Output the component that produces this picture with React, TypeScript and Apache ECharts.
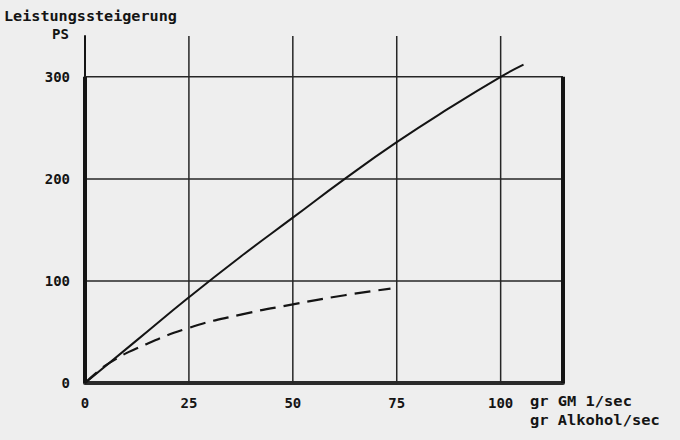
import React, { useEffect, useRef } from "react";
import * as echarts from "echarts";

// Data
const SOLID_CURVE: [number, number][] = [
  [0, 0], [12.5, 42], [25, 84], [37.5, 124], [50, 162], [62.5, 200],
  [75, 236], [87.5, 269], [100, 300], [105.5, 312],
];
const DASHED_CURVE: [number, number][] = [
  [0, 0], [3, 11], [6, 20], [12.5, 34], [25, 54], [37.5, 67],
  [50, 77], [62.5, 86], [73.5, 92.5],
];
const X_GRID = [25, 50, 75, 100];
const Y_GRID = [100, 200, 300];
const X_MAX = 115;
const Y_MAX = 340;
const FRAME_TOP = 300;
const TITLE = "Leistungssteigerung";
const Y_UNIT = "PS";
const X_UNIT_1 = "gr GM 1/sec";
const X_UNIT_2 = "gr Alkohol/sec";

const FONT = "'DejaVu Sans Mono', 'Liberation Mono', monospace";
const INK = "#141414";

export default function App() {
  const ref = useRef<HTMLDivElement>(null);
  useEffect(() => {
    if (!ref.current) return;
    const chart = echarts.init(ref.current, undefined, { renderer: "svg" });
    const gridLine = (data: [number, number][]) => ({
      type: "line",
      data,
      symbol: "none",
      silent: true,
      clip: false,
      lineStyle: { color: "#262626", width: 1.5 },
      z: 1,
    });
    const series: any[] = [];
    Y_GRID.forEach((v) => series.push(gridLine([[0, v], [X_MAX, v]])));
    X_GRID.forEach((v) => series.push(gridLine([[v, 0], [v, Y_MAX]])));
    // thick frame parts
    series.push({
      type: "line", data: [[0, 0], [0, FRAME_TOP]], symbol: "none", clip: false, silent: true,
      lineStyle: { color: INK, width: 4 }, z: 3,
    });
    series.push({
      type: "line", data: [[X_MAX, 0], [X_MAX, FRAME_TOP]], symbol: "none", clip: false, silent: true,
      lineStyle: { color: INK, width: 4 }, z: 3,
    });
    series.push({
      type: "line", data: SOLID_CURVE, symbol: "none", smooth: true, clip: false,
      lineStyle: { color: INK, width: 2 }, z: 5,
    });
    series.push({
      type: "line", data: DASHED_CURVE, symbol: "none", smooth: true, clip: false,
      lineStyle: { color: INK, width: 2.2, type: [16, 8] }, z: 5,
    });

    chart.setOption({
      animation: false,
      backgroundColor: "#eeeeee",
      grid: { left: 85, right: 117, top: 36, bottom: 57, containLabel: false },
      xAxis: {
        type: "value", min: 0, max: X_MAX, interval: 25,
        axisLine: { show: true, lineStyle: { color: "#2a2a2a", width: 4 } },
        axisTick: { show: false },
        splitLine: { show: false },
        axisLabel: {
          margin: 13, color: INK, fontFamily: FONT, fontWeight: "bold", fontSize: 14,
          formatter: (v: number) => (v > 100 ? "" : String(v)),
        },
      },
      yAxis: {
        type: "value", min: 0, max: Y_MAX, interval: 100,
        axisLine: { show: true, lineStyle: { color: INK, width: 2 } },
        axisTick: { show: false },
        splitLine: { show: false },
        axisLabel: {
          margin: 15, color: INK, fontFamily: FONT, fontWeight: "bold", fontSize: 14,
          formatter: (v: number) => (v > 300 ? "" : String(v)),
        },
      },
      graphic: [
        { type: "text", left: 4, top: 9, scaleX: 1.08, style: { text: TITLE, fill: INK, font: `bold 14px ${FONT}` } },
        { type: "text", left: 52, top: 27, style: { text: Y_UNIT, fill: INK, font: `bold 14px ${FONT}` } },
        { type: "text", left: 530, top: 394, scaleX: 1.1, style: { text: X_UNIT_1, fill: INK, font: `bold 14px ${FONT}` } },
        { type: "text", left: 530, top: 413, scaleX: 1.1, style: { text: X_UNIT_2, fill: INK, font: `bold 14px ${FONT}` } },
      ],
      series,
    });
    return () => chart.dispose();
  }, []);
  return (
    <div
      ref={ref}
      style={{ position: "fixed", left: 0, top: 0, width: 680, height: 440 }}
    />
  );
}
